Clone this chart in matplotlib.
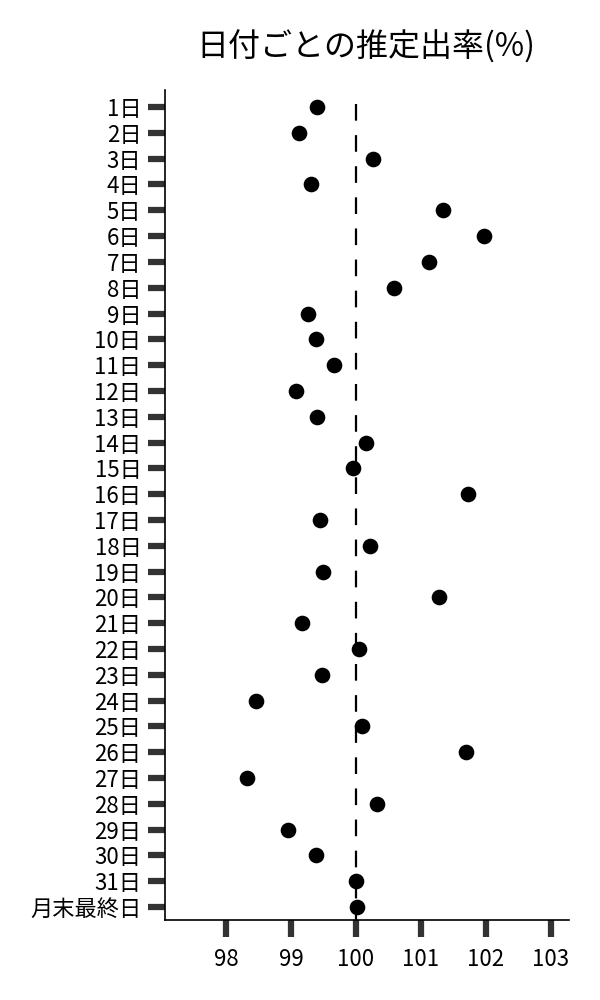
import matplotlib
matplotlib.use("Agg")
import matplotlib.pyplot as plt

plt.rcParams['font.family'] = ['Noto Sans CJK JP', 'DejaVu Sans']

days = [f"{i}日" for i in range(1, 32)] + ["月末最終日"]
rates = [99.40, 99.12, 100.26, 99.31, 101.34, 101.98, 101.12, 100.58,
         99.26, 99.38, 99.66, 99.08, 99.40, 100.15, 99.95, 101.72,
         99.45, 100.22, 99.49, 101.28, 99.17, 100.05, 99.48, 98.46,
         100.09, 101.69, 98.32, 100.32, 98.95, 99.38, 100.00, 100.02]
x_ticks = [98, 99, 100, 101, 102, 103]
base = 100

fig = plt.figure(figsize=(6, 10), dpi=100)
ax = fig.add_axes([0.275, 0.08, 0.673, 0.83])

ypos = list(range(len(days)))
ax.scatter(rates, ypos, s=105, color='black', zorder=3)
ax.vlines(base, -0.12, len(days) - 0.5, color='black', linewidth=1.6,
          linestyles=(0, (7.5, 6.5)), zorder=2)

ax.set_ylim(len(days) - 0.5, -0.66)
ax.set_xlim(97.06, 103.28)
ax.set_yticks(ypos)
ax.set_yticklabels(days)
ax.set_xticks(x_ticks)
ax.set_xticklabels([str(t) for t in x_ticks])

for s in ['top', 'right']:
    ax.spines[s].set_visible(False)
for s in ['left', 'bottom']:
    ax.spines[s].set_linewidth(1.2)

ax.tick_params(axis='y', length=12, width=4.5, color='#333333', pad=5, labelsize=16)
ax.tick_params(axis='x', length=12, width=4.5, color='#333333', pad=8, labelsize=16)

fig.suptitle("日付ごとの推定出率(%)", x=0.61, y=0.97, fontsize=23)

fig.savefig("out.png", dpi=100)
